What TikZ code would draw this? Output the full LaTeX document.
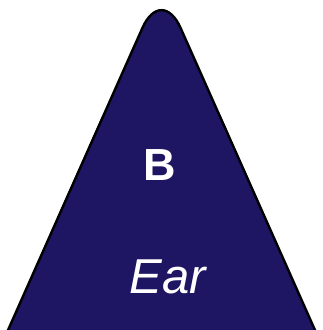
\documentclass[tikz,border=0pt]{standalone}
\usepackage{fontspec}
\setmainfont{Liberation Sans}
\definecolor{navy}{HTML}{1E1563}
\begin{document}
\begin{tikzpicture}[x=1pt,y=-1pt,
  tri/.style={draw=black,line width=2.4pt,fill=navy,rounded corners=47pt,line join=round},
  lbl/.style={text=white,inner sep=0pt,anchor=base}]
\useasboundingbox (0,0) rectangle (323,330);
\clip (0,0) rectangle (323,330);
\draw[tri] (-32,420) -- (161.5,-15) -- (355,420) -- cycle;
\node[lbl,font=\fontsize{45}{45}\selectfont\bfseries] (b) at (160,180) {B};
\node[lbl,font=\fontsize{49}{49}\selectfont\itshape] (ear) at (168,293) {Ear};
\end{tikzpicture}
\end{document}
